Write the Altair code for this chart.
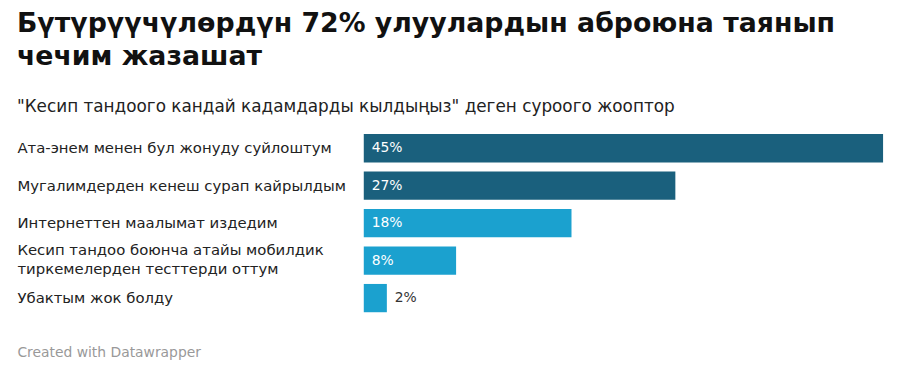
import altair as alt
import pandas as pd

categories = [
    "Ата-энем менен бул жонуду суйлоштум",
    "Мугалимдерден кенеш сурап кайрылдым",
    "Интернеттен маалымат издедим",
    "Кесип тандоо боюнча атайы мобилдик|тиркемелерден тесттерди оттум",
    "Убактым жок болду",
]
values = [45, 27, 18, 8, 2]
groups = ["top", "top", "rest", "rest", "rest"]

title_lines = ["Бүтүрүүчүлөрдүн 72% улуулардын аброюна таянып", "чечим жазашат"]
subtitle = "\"Кесип тандоого кандай кадамдарды кылдыңыз\" деген суроого жооптор"
footer = "Created with Datawrapper"

FONT = "DejaVu Sans"

df = pd.DataFrame({"cat": categories, "value": values, "group": groups})

y_enc = alt.Y(
    "cat:N",
    sort=categories,
    title=None,
    scale=alt.Scale(paddingInner=0.245, paddingOuter=0.1225),
    axis=alt.Axis(
        labelAlign="left",
        labelPadding=350,
        ticks=False,
        tickSize=0,
        domain=False,
        labelFont=FONT,
        labelFontSize=15,
        labelColor="#222222",
        labelLimit=400,
        labelLineHeight=20,
        labelOffset={"condition": {"test": "indexof(datum.label, '|') >= 0", "value": -11}, "value": 0},
        labelExpr="split(datum.label, '|')",
    ),
)

x_enc = alt.X(
    "value:Q",
    scale=alt.Scale(domain=[0, 45], nice=False),
    axis=alt.Axis(
        labels=False,
        ticks=False,
        domain=False,
        grid=False,
        title=footer,
        titleX=-350,
        titleY=40,
        titleAlign="left",
        titleBaseline="alphabetic",
        titleFont=FONT,
        titleFontSize=14,
        titleFontWeight="normal",
        titleColor="#999999",
    ),
)

bars = alt.Chart(df).mark_bar().encode(
    x=x_enc,
    y=y_enc,
    color=alt.Color(
        "group:N",
        scale=alt.Scale(domain=["top", "rest"], range=["#1a607d", "#1ba1cf"]),
        legend=None,
    ),
)

texts = (
    alt.Chart(df)
    .transform_calculate(
        pos="datum.value < 5 ? datum.value : 0",
        lbl="datum.value + '%'",
    )
    .mark_text(align="left", baseline="middle", dx=8, font=FONT, fontSize=14)
    .encode(
        x="pos:Q",
        y=alt.Y("cat:N", sort=categories),
        text="lbl:N",
        color=alt.condition("datum.value < 5", alt.value("#333333"), alt.value("#ffffff")),
    )
)

chart = (
    alt.layer(bars, texts)
    .properties(
        width=524,
        height=189,
        autosize=alt.AutoSizeParams(type="none"),
        padding={"left": 359, "top": 121, "right": 8, "bottom": 48},
        title=alt.TitleParams(
            text=title_lines,
            subtitle=subtitle,
            anchor="start",
            frame="bounds",
            font=FONT,
            fontSize=27,
            fontWeight="bold",
            lineHeight=33,
            color="#111111",
            subtitleFont=FONT,
            subtitleFontSize=17,
            subtitleColor="#222222",
            subtitlePadding=28,
            offset=14,
        ),
    )
    .configure_view(stroke=None)
)

chart.save("out.html", embed_options={"renderer": "svg", "actions": False})
